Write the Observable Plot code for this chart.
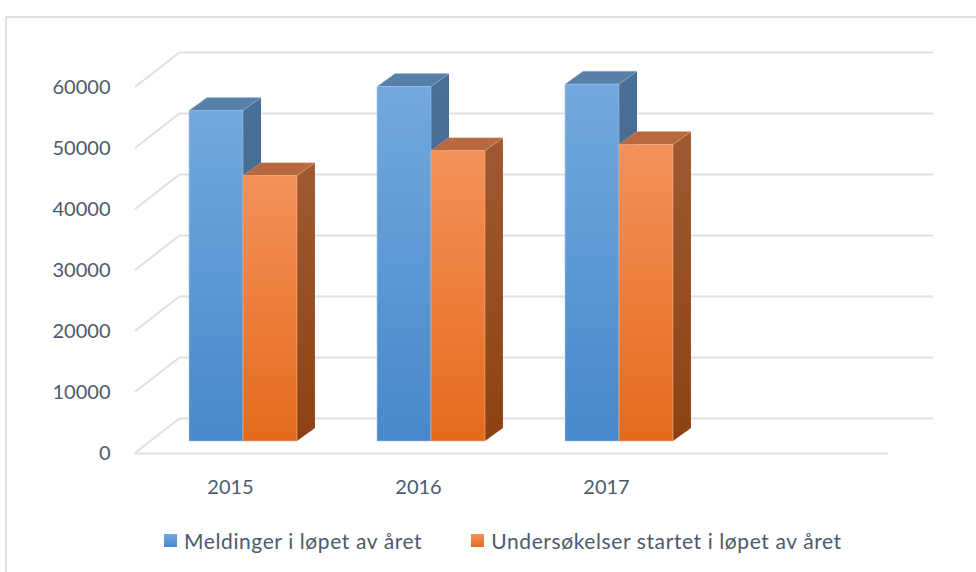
<!DOCTYPE html>
<html><head><meta charset="utf-8">
<script src="https://cdn.jsdelivr.net/npm/d3@7"></script>
<script src="https://cdn.jsdelivr.net/npm/@observablehq/plot@0.6"></script>
<style>
body{margin:0;background:#fff;font-family:Lato,"Open Sans",sans-serif;}
#wrap{position:relative;width:976px;height:572px;overflow:hidden;background:#fff;}
#frame{position:absolute;left:5px;top:16px;width:1000px;height:600px;border-left:2px solid #dde0e6;border-top:2px solid #dde0e6;}
#chart{position:absolute;left:0;top:0;}
#legend{position:absolute;left:164px;top:528px;display:flex;align-items:center;font-size:21px;letter-spacing:0.6px;color:#4d5a6c;white-space:nowrap;}
.item{display:flex;align-items:center;margin-right:49px;}
.sw{width:13px;height:13px;margin-right:7px;}
</style></head>
<body>
<div id="wrap"><div id="frame"></div><div id="chart"></div><div id="legend"></div></div>
<script>
const years = ["2015", "2016", "2017"];
const meldinger = [54200, 58100, 58500];
const undersokelser = [43500, 47600, 48600];
const seriesNames = ["Meldinger i løpet av året", "Undersøkelser startet i løpet av året"];
const yTicks = [0, 10000, 20000, 30000, 40000, 50000, 60000];

const rows = years.flatMap((y, i) => [
  {year: y, s: 0, value: meldinger[i]},
  {year: y, s: 1, value: undersokelser[i]}
]);

const W = 976, H = 510;
const DX = 45, DY = 35;          // wall depth (pixels)
const FX = -32, FY = 23;          // bar front plane offset
const BDX = 18, BDY = -13;        // bar depth
const gridColor = "#dde0e6";
const textColor = "#4d5a6c";

const palette = [
  {front: ["#72a8de", "#4789cb"], side: ["#4a6f96", "#42668c"], top: "#587fa8", edge: "#9cc2ea"},
  {front: ["#f4915a", "#e46b1c"], side: ["#a05932", "#8c4212"], top: "#b9693f", edge: "#f7b48a"}
];

function diagMark(index, scales, values, dim) {
  const g = d3.create("svg:g");
  const x0 = dim.marginLeft;
  for (const v of yTicks) {
    const y = scales.y(v);
    g.append("line").attr("x1", x0).attr("y1", y).attr("x2", x0 - DX).attr("y2", y + DY)
      .attr("stroke", gridColor).attr("stroke-width", 2);
  }
  return g.node();
}

function bars3d(index, scales, values, dim) {
  const svg = d3.create("svg:g");
  const defs = svg.append("defs");
  palette.forEach((p, i) => {
    const gf = defs.append("linearGradient").attr("id", "gf" + i).attr("x1", 0).attr("y1", 0).attr("x2", 0).attr("y2", 1);
    gf.append("stop").attr("offset", 0).attr("stop-color", p.front[0]);
    gf.append("stop").attr("offset", 1).attr("stop-color", p.front[1]);
    const gs = defs.append("linearGradient").attr("id", "gs" + i).attr("x1", 0).attr("y1", 0).attr("x2", 0).attr("y2", 1);
    gs.append("stop").attr("offset", 0).attr("stop-color", p.side[0]);
    gs.append("stop").attr("offset", 1).attr("stop-color", p.side[1]);
  });
  const bw = scales.x(years[1]) - scales.x(years[0]);
  const barW = bw * 0.287;
  const pts = a => a.map(p => p.join(",")).join(" ");
  for (const r of rows) {
    const c = scales.x(r.year) + bw / 2;
    const x0 = c - barW + r.s * barW + FX, x1 = x0 + barW;
    const yt = scales.y(r.value) + FY, yb = scales.y(0) + FY;
    const p = palette[r.s];
    svg.append("polygon").attr("points", pts([[x1, yt], [x1 + BDX, yt + BDY], [x1 + BDX, yb + BDY], [x1, yb]]))
      .attr("fill", `url(#gs${r.s})`);
    svg.append("polygon").attr("points", pts([[x0, yt], [x1, yt], [x1 + BDX, yt + BDY], [x0 + BDX, yt + BDY]]))
      .attr("fill", p.top).attr("stroke", p.edge).attr("stroke-width", 0.6).attr("stroke-opacity", 0.6);
    svg.append("rect").attr("x", x0).attr("y", yt).attr("width", barW).attr("height", yb - yt)
      .attr("fill", `url(#gf${r.s})`).attr("stroke", p.edge).attr("stroke-width", 0.8).attr("stroke-opacity", 0.7);
  }
  return svg.node();
}

const chart = Plot.plot({
  width: W, height: H,
  marginLeft: 180, marginRight: 43, marginTop: 52, marginBottom: H - 418,
  style: {fontFamily: "Lato, 'Open Sans', sans-serif", background: "transparent"},
  x: {type: "band", domain: [...years, " "], padding: 0},
  y: {domain: [0, 60000]},
  marks: [
    diagMark,
    Plot.ruleY(yTicks, {stroke: gridColor, strokeWidth: 2, strokeOpacity: 1}),
    Plot.ruleY([0], {dx: -DX, dy: DY, stroke: gridColor, strokeWidth: 2, strokeOpacity: 1}),
    Plot.axisY(yTicks, {tickSize: 0, tickPadding: 70, dy: DY, tickFormat: d => String(d), label: null, fontSize: 20, fill: textColor}),
    Plot.axisX(years, {tickSize: 0, tickPadding: 61, dx: -DX, label: null, fontSize: 20, fill: textColor}),
    bars3d
  ]
});
document.getElementById("chart").appendChild(chart);

const legend = document.getElementById("legend");
seriesNames.forEach((name, i) => {
  const it = document.createElement("div");
  it.className = "item";
  const sw = document.createElement("div");
  sw.className = "sw";
  sw.style.background = `linear-gradient(${palette[i].front[0]}, ${palette[i].front[1]})`;
  const t = document.createElement("span");
  t.textContent = name;
  it.appendChild(sw); it.appendChild(t);
  legend.appendChild(it);
});
</script>
</body></html>
